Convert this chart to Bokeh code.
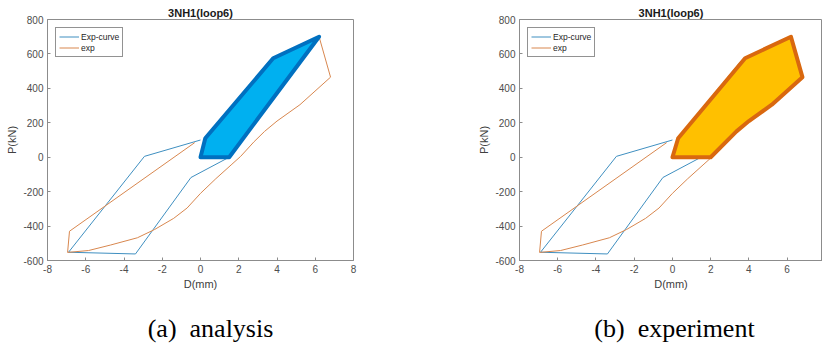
from bokeh.plotting import figure
from bokeh.models import Range1d, FixedTicker, Legend, LegendItem, Title
from bokeh.layouts import row, column
from bokeh.embed import file_html
from bokeh.resources import INLINE

# ---------------- data ----------------
exp_curve_d = [0.0, -2.93, -6.9, -3.4, -0.5, 1.5, 6.2, 3.6, 0.25]
exp_curve_p = [100, 5, -552, -562, -118, 0, 700, 560, 108]

exp_d = [-0.3, -6.85, -6.95, -5.85, -4.7, -3.3, -2.4, -1.4, -0.7, 0.0,
         0.8, 1.6, 2.1, 2.8, 3.35, 4.0, 5.2, 6.8, 6.2]
exp_p = [85, -430, -553, -542, -510, -468, -420, -355, -295, -210,
         -125, -45, 5, 90, 150, 210, 305, 465, 700]

area_analysis_d = [0.0, 0.25, 3.8, 6.2, 1.5]
area_analysis_p = [0, 110, 575, 700, 0]

area_exp_d = [0.0, 0.3, 3.8, 6.2, 6.8, 5.2, 4.0, 3.35, 2.0]
area_exp_p = [0, 110, 575, 700, 465, 305, 210, 150, 0]

x_ticks = [-8, -6, -4, -2, 0, 2, 4, 6, 8]
y_ticks = [-600, -400, -200, 0, 200, 400, 600, 800]

chart_title = "3NH1(loop6)"
x_label = "D(mm)"
y_label = "P(kN)"
legend_labels = ["Exp-curve", "exp"]
captions = ["(a)\u00a0 analysis", "(b)\u00a0 experiment"]

BLUE_LINE = "#3f8fc0"
ORANGE_LINE = "#d8874f"
AXIS_COL = "#8c8c8c"
TICK_TXT = "#4d4d4d"
FONT = "Liberation Sans"


def style_axis(ax, ticks):
    ax.ticker = FixedTicker(ticks=ticks)
    ax.major_label_overrides = {float(t): str(t) for t in ticks}
    ax.major_tick_in = 3
    ax.major_tick_out = 0
    ax.minor_tick_line_color = None
    ax.axis_line_color = AXIS_COL
    ax.major_tick_line_color = AXIS_COL
    ax.major_label_text_color = TICK_TXT
    ax.major_label_text_font = FONT
    ax.major_label_text_font_size = "10px"
    ax.major_label_standoff = 4
    ax.axis_label_text_font = FONT
    ax.axis_label_text_font_size = "11px"
    ax.axis_label_text_font_style = "normal"
    ax.axis_label_text_color = "#404040"
    ax.axis_label_standoff = 2


def make_panel(x_end, min_left, min_right, min_top, area_d, area_p, fill, edge):
    p = figure(width=411, height=294, output_backend="svg", toolbar_location=None,
               x_range=Range1d(-8, x_end), y_range=Range1d(-600, 800),
               min_border_left=min_left, min_border_right=min_right,
               min_border_top=min_top, min_border_bottom=34)
    p.xgrid.visible = False
    p.ygrid.visible = False
    p.background_fill_color = "white"
    p.border_fill_color = "white"
    p.outline_line_color = AXIS_COL

    style_axis(p.xaxis[0], x_ticks)
    style_axis(p.yaxis[0], y_ticks)
    p.xaxis[0].axis_label = x_label
    p.yaxis[0].axis_label = y_label

    r1 = p.line(exp_curve_d, exp_curve_p, line_color=BLUE_LINE, line_width=1)
    r2 = p.line(exp_d, exp_p, line_color=ORANGE_LINE, line_width=1)
    p.patch(area_d, area_p, fill_color=fill, line_color=edge, line_width=4,
            line_join="round")

    leg = Legend(items=[LegendItem(label=legend_labels[0], renderers=[r1]),
                        LegendItem(label=legend_labels[1], renderers=[r2])],
                 location="top_left")
    leg.margin = 8
    leg.padding = 3
    leg.spacing = 0
    leg.glyph_width = 20
    leg.glyph_height = 11
    leg.label_height = 11
    leg.label_standoff = 2
    leg.label_text_font = FONT
    leg.label_text_font_size = "8.5px"
    leg.label_text_color = "#262626"
    leg.border_line_color = "#262626"
    leg.border_line_width = 0.8
    leg.background_fill_color = "white"
    leg.background_fill_alpha = 1
    p.add_layout(leg, "center")

    p.title.text = chart_title
    p.title.align = "center"
    p.title.text_font = FONT
    p.title.text_font_size = "11px"
    p.title.text_font_style = "bold"
    p.title.text_color = "#1a1a1a"
    p.title.standoff = 2
    return p


def make_caption(text, min_left):
    c = figure(width=411, height=55, output_backend="svg", toolbar_location=None,
               x_range=Range1d(0, 1), y_range=Range1d(0, 1),
               min_border_left=min_left, min_border_right=0,
               min_border_top=48, min_border_bottom=0)
    c.axis.visible = False
    c.grid.visible = False
    c.outline_line_color = None
    c.background_fill_color = "white"
    c.border_fill_color = "white"
    c.title = Title(text=text, align="center", standoff=0,
                    text_font="Liberation Serif", text_font_size="26px",
                    text_font_style="normal", text_color="black")
    return c


p1 = make_panel(8, 47, 58, 19, area_analysis_d, area_analysis_p, "#00B0F0", "#0070C0")
p2 = make_panel(7.85, 108, 0, 19, area_exp_d, area_exp_p, "#FFC000", "#D9680F")
c1 = make_caption(captions[0], 9)
c2 = make_caption(captions[1], 115)

layout = column(row(p1, p2), row(c1, c2))
open("out.html", "w").write(file_html(layout, INLINE))
